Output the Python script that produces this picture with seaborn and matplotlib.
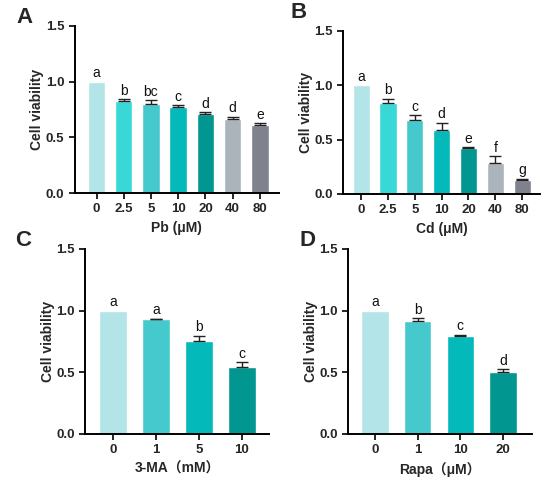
import numpy as np
import pandas as pd
import seaborn as sns
import matplotlib
matplotlib.use('Agg')
import matplotlib.pyplot as plt

sns.set_style('ticks')
plt.rcParams['font.family'] = ['Liberation Sans', 'Noto Sans CJK SC', 'DejaVu Sans']

# panel A - Pb
pb_dose = ['0', '2.5', '5', '10', '20', '40', '80']
pb_mean = [1.0, 0.825, 0.80, 0.77, 0.705, 0.665, 0.61]
pb_err = [0.0, 0.02, 0.035, 0.02, 0.02, 0.02, 0.015]
pb_sig = ['a', 'b', 'bc', 'c', 'd', 'd', 'e']

# panel B - Cd
cd_dose = ['0', '2.5', '5', '10', '20', '40', '80']
cd_mean = [1.0, 0.84, 0.68, 0.59, 0.42, 0.285, 0.125]
cd_err = [0.0, 0.035, 0.045, 0.065, 0.01, 0.06, 0.015]
cd_sig = ['a', 'b', 'c', 'd', 'e', 'f', 'g']

# panel C - 3-MA
ma_dose = ['0', '1', '5', '10']
ma_mean = [1.0, 0.93, 0.755, 0.545]
ma_err = [0.0, 0.005, 0.04, 0.035]
ma_sig = ['a', 'a', 'b', 'c']

# panel D - Rapa
rapa_dose = ['0', '1', '10', '20']
rapa_mean = [1.0, 0.915, 0.79, 0.50]
rapa_err = [0.0, 0.025, 0.015, 0.025]
rapa_sig = ['a', 'b', 'c', 'd']

pal7 = ['#b2e4e8', '#38d8d6', '#46c9cd', '#03b9b9', '#01968f', '#abb3bb', '#7f818c']
pal4 = ['#b2e4e8', '#46c9cd', '#03b9b9', '#01968f']

fig = plt.figure(figsize=(5.5, 4.93), dpi=100)
axA = fig.add_axes([0.136, 0.6085, 0.371, 0.339])
axB = fig.add_axes([0.624, 0.6065, 0.358, 0.331])
axC = fig.add_axes([0.155, 0.12, 0.334, 0.375])
axD = fig.add_axes([0.633, 0.12, 0.334, 0.375])


def panel(ax, dose, mean, err, sig, pal, xlabel, letter, lx, ly, xl):
    df = pd.DataFrame({'dose': dose, 'mean': mean})
    sns.barplot(data=df, x='dose', y='mean', hue='dose', palette=pal,
                legend=False, ax=ax, width=0.64, saturation=1, errorbar=None)
    xs = np.arange(len(dose))
    e = np.array(err)
    keep = e > 0
    ax.errorbar(xs[keep], np.array(mean)[keep],
                yerr=[np.zeros(keep.sum()), e[keep]], fmt='none',
                ecolor='#222222', elinewidth=1, capsize=4, capthick=1)
    for x, m, er, s in zip(xs, mean, err, sig):
        ax.text(x, m + er + 0.012, s, ha='center', va='bottom', fontsize=10,
                color='#111111')
    ax.set_ylim(0, 1.5)
    ax.set_yticks([0, 0.5, 1.0, 1.5])
    ax.set_yticklabels(['0.0', '0.5', '1.0', '1.5'])
    ax.set_xlim(*xl)
    ax.set_ylabel('Cell viability', fontsize=10, fontweight='bold', labelpad=1)
    ax.set_xlabel(xlabel, fontsize=10, fontweight='bold', labelpad=4)
    ax.tick_params(axis='both', labelsize=9.5, width=1.2, length=4, color='black')
    for lab in ax.get_xticklabels() + ax.get_yticklabels():
        lab.set_fontweight('bold')
    for side in ['left', 'bottom']:
        ax.spines[side].set_linewidth(1.4)
        ax.spines[side].set_color('black')
    sns.despine(ax=ax)
    fig.text(lx, ly, letter, fontsize=16, fontweight='bold', ha='left', va='center')


panel(axA, pb_dose, pb_mean, pb_err, pb_sig, pal7, 'Pb (μM)', 'A', 0.03, 0.965, (-0.8, 6.7))
panel(axB, cd_dose, cd_mean, cd_err, cd_sig, pal7, 'Cd (μM)', 'B', 0.528, 0.975, (-0.67, 6.67))
panel(axC, ma_dose, ma_mean, ma_err, ma_sig, pal4, '3-MA\uff08mM\uff09', 'C', 0.027, 0.513, (-0.65, 3.63))
panel(axD, rapa_dose, rapa_mean, rapa_err, rapa_sig, pal4, 'Rapa\uff08μM\uff09', 'D', 0.545, 0.513, (-0.63, 3.68))

fig.savefig('out.png', dpi=100)
